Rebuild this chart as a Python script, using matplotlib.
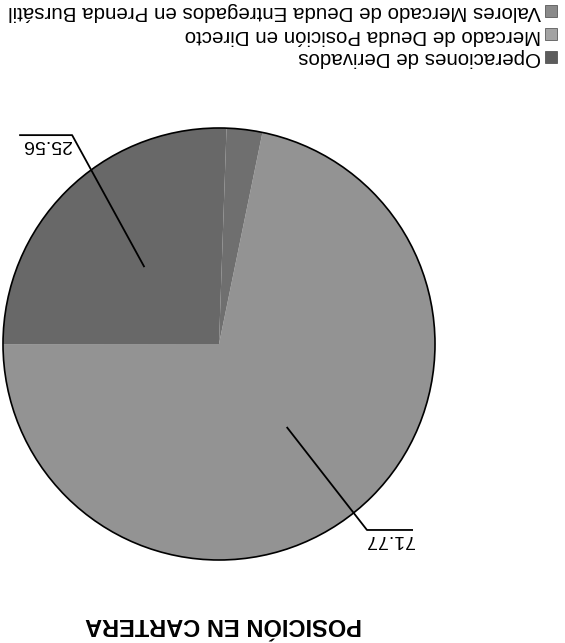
import matplotlib
matplotlib.use('Agg')
import matplotlib.pyplot as plt
from matplotlib.patches import Rectangle, Circle
import numpy as np

# datos (la imagen original esta escaneada boca abajo)
categorias = ['Operaciones de Derivados',
              'Mercado de Deuda Posición en Directo',
              'Valores Mercado de Deuda Entregados en Prenda Bursátil']
valores = [25.56, 71.77, 2.67]
etiquetas = ['25.56', '71.77', '']
colores = ['#686868', '#939393', '#6f6f6f']
colores_leyenda = ['#5c5c5c', '#a3a3a3', '#8a8a8a']
titulo = 'POSICIÓN EN CARTERA'

plt.rcParams['font.family'] = ['Liberation Sans', 'DejaVu Sans']

W, H = 565, 643
fig = plt.figure(figsize=(W / 100, H / 100), dpi=100)


def fx(px):
    return px / W


def fy(py):
    return 1 - py / H


# tarta (todo girado 180 grados)
cx, cy, r = 219, 344, 216
ext = 1.1
ax = fig.add_axes([fx(cx - r * ext), fy(cy + r * ext), 2 * r * ext / W, 2 * r * ext / H])
wedges, _ = ax.pie(valores, colors=colores, startangle=88, counterclock=True,
                   radius=1, wedgeprops=dict(linewidth=0))
ax.add_patch(Circle((0, 0), 1, fill=False, edgecolor='black', lw=1.2))
ax.set_xlim(-ext, ext)
ax.set_ylim(-ext, ext)
ax.set_aspect('equal')
ax.axis('off')

# lineas guia de las etiquetas
guias = [((-0.68, 0.967), (-0.921, 0.967)),
         ((0.685, -0.861), (0.894, -0.861)),
         None]
for w, lab, g in zip(wedges, etiquetas, guias):
    if g is None:
        continue
    ang = np.deg2rad((w.theta1 + w.theta2) / 2)
    x0, y0 = 0.5 * np.cos(ang), 0.5 * np.sin(ang)
    (x1, y1), (x2, y2) = g
    ax.plot([x0, x1, x2], [y0, y1, y2], color='black', lw=1.3, clip_on=False)
    ax.text((x1 + x2) / 2, y1 - 0.045, lab, rotation=180, ha='center', va='center',
            fontsize=14, clip_on=False)

# leyenda manual, girada
filas = [58, 35, 12]
for cat, col, yy in zip(categorias, colores_leyenda, filas):
    fig.patches.append(Rectangle((fx(545), fy(yy + 5)), 12 / W, 12 / H,
                                 transform=fig.transFigure, facecolor=col,
                                 edgecolor='#444444', lw=0.5))
    fig.text(fx(541), fy(yy), cat, rotation=180, ha='right', va='center', fontsize=14.8)

# titulo
fig.text(fx(224), fy(624), titulo, rotation=180, ha='center', va='center',
         fontsize=17, fontweight='bold')

fig.savefig('out.png', dpi=100, facecolor='white')
